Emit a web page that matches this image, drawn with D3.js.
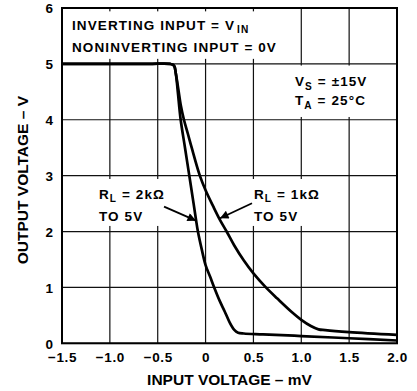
<!DOCTYPE html>
<html><head><meta charset="utf-8">
<script src="https://cdn.jsdelivr.net/npm/d3@7"></script>
<style>
body{margin:0;background:#fff;}
text{font-family:"Liberation Sans",Arial,Helvetica,sans-serif;font-weight:bold;fill:#000;}
</style></head>
<body><svg id="c" width="417" height="391"></svg>
<script>
// ---- data ----
const xTicks = [-1.5, -1.0, -0.5, 0, 0.5, 1.0, 1.5, 2.0];
const xTickLabels = ["\u22121.5", "\u22121.0", "\u22120.5", "0", "0.5", "1.0", "1.5", "2.0"];
const yTicks = [0, 1, 2, 3, 4, 5, 6];
const yTickLabels = ["0", "1", "2", "3", "4", "5", "6"];

const rl2kX = [-1.5, -0.6, -0.37, -0.33, -0.31, -0.29, -0.26, -0.215, -0.17, -0.125, -0.10, -0.08, -0.04, 0, 0.05, 0.09, 0.15, 0.20, 0.25, 0.30, 0.34, 0.40, 0.60, 1.0, 1.5, 2.0];
const rl2kY = [5, 5, 5, 4.97, 4.82, 4.5, 4.0, 3.5, 3.0, 2.5, 2.21, 2.0, 1.68, 1.4, 1.18, 1.0, 0.75, 0.57, 0.38, 0.24, 0.19, 0.175, 0.16, 0.13, 0.09, 0.05];

const rl1kX = [-1.5, -0.6, -0.37, -0.33, -0.31, -0.285, -0.258, -0.226, -0.185, -0.145, -0.06, 0, 0.08, 0.15, 0.22, 0.30, 0.40, 0.50, 0.63, 0.75, 0.90, 1.0, 1.10, 1.18, 1.25, 1.5, 2.0];
const rl1kY = [5, 5, 5, 4.97, 4.82, 4.55, 4.25, 4.0, 3.75, 3.5, 3.0, 2.74, 2.45, 2.21, 2.0, 1.75, 1.48, 1.25, 1.0, 0.8, 0.56, 0.42, 0.31, 0.25, 0.235, 0.2, 0.15];

const xTitle = "INPUT VOLTAGE \u2013 mV";
const yTitle = "OUTPUT VOLTAGE \u2013 V";

// ---- layout ----
const svg = d3.select("#c");
const L = 62, T = 8, W = 335, H = 335.3;
const x = d3.scaleLinear().domain([-1.5, 2.0]).range([L, L + W]);
const y = d3.scaleLinear().domain([0, 6]).range([T + H, T]);

// gridlines
const g = svg.append("g");
g.selectAll(".vg").data(xTicks).join("line")
  .attr("x1", d => x(d)).attr("x2", d => x(d)).attr("y1", T).attr("y2", T + H)
  .attr("stroke", "#111").attr("stroke-width", 1.2);
g.selectAll(".hg").data(yTicks).join("line")
  .attr("y1", d => y(d)).attr("y2", d => y(d)).attr("x1", L).attr("x2", L + W)
  .attr("stroke", "#111").attr("stroke-width", 1.2);

// white label backgrounds (break gridlines like the original)
const boxes = [
  {x0: -1.5, x1: 0.85, y0: 5.09, y1: 5.94},
  {x0: 0.57, x1: 2.0, y0: 4.05, y1: 4.97},
  {x0: -1.18, x1: -0.32, y0: 2.1, y1: 2.94},
  {x0: 0.45, x1: 1.25, y0: 2.1, y1: 2.94}
];
g.selectAll(".bx").data(boxes).join("rect")
  .attr("x", d => x(d.x0)).attr("y", d => y(d.y1))
  .attr("width", d => x(d.x1) - x(d.x0)).attr("height", d => y(d.y0) - y(d.y1))
  .attr("fill", "#fff");

// frame
svg.append("rect").attr("x", L).attr("y", T).attr("width", W).attr("height", H)
  .attr("fill", "none").attr("stroke", "#000").attr("stroke-width", 2);

// axes labels
const xa = svg.append("g").attr("transform", `translate(0,${T + H})`)
  .call(d3.axisBottom(x).tickValues(xTicks).tickFormat((d, i) => xTickLabels[i]).tickSize(0).tickPadding(0));
xa.select(".domain").remove();
xa.selectAll("text").attr("dy", null).attr("y", 18.5).attr("font-size", 13.5)
  .attr("letter-spacing", 0.6).style("font-family", "'Liberation Sans',Arial,sans-serif").style("font-weight", "bold").attr("fill", "#000");

const ya = svg.append("g").attr("transform", `translate(${L},0)`)
  .call(d3.axisLeft(y).tickValues(yTicks).tickFormat((d, i) => yTickLabels[i]).tickSize(0).tickPadding(9));
ya.select(".domain").remove();
ya.selectAll("text").attr("font-size", 13.5).attr("dy", "0.36em")
  .style("font-family", "'Liberation Sans',Arial,sans-serif").style("font-weight", "bold").attr("fill", "#000");

svg.append("text").attr("x", x(0.25)).attr("y", 385).attr("text-anchor", "middle")
  .attr("font-size", 15.5).text(xTitle);
svg.append("text").attr("transform", `translate(27.5,${y(2.92)}) rotate(-90)`).attr("text-anchor", "middle")
  .attr("font-size", 15.5).text(yTitle);

// curves
const line = d3.line().x(d => x(d[0])).y(d => y(d[1])).curve(d3.curveCatmullRom.alpha(0.5));
const s2k = rl2kX.map((v, i) => [v, rl2kY[i]]);
const s1k = rl1kX.map((v, i) => [v, rl1kY[i]]);
svg.selectAll(".crv").data([s1k, s2k]).join("path")
  .attr("d", line).attr("fill", "none").attr("stroke", "#000").attr("stroke-width", 2.7)
  .attr("stroke-linejoin", "round");

// arrows
const defs = svg.append("defs");
defs.append("marker").attr("id", "ah").attr("viewBox", "0 0 10 10").attr("refX", 10).attr("refY", 5)
  .attr("markerWidth", 14).attr("markerHeight", 8.5).attr("markerUnits", "userSpaceOnUse").attr("orient", "auto")
  .append("path").attr("d", "M0,0L10,5L0,10Z").attr("fill", "#000");
const arrows = [
  {from: [-0.434, 2.446], to: [-0.10, 2.195]},
  {from: [0.485, 2.507], to: [0.151, 2.238]}
];
svg.selectAll(".ar").data(arrows).join("line")
  .attr("x1", d => x(d.from[0])).attr("y1", d => y(d.from[1]))
  .attr("x2", d => x(d.to[0])).attr("y2", d => y(d.to[1]))
  .attr("stroke", "#000").attr("stroke-width", 1.8).attr("marker-end", "url(#ah)");

// annotation text
function addText(px, py, parts, size) {
  const t = svg.append("text").attr("x", px).attr("y", py).attr("font-size", size).attr("letter-spacing", 1.1);
  parts.forEach(p => {
    if (p.sub) {
      t.append("tspan").attr("dy", 3.5).attr("dx", p.dx || 0).attr("font-size", size * 0.75).text(p.t);
      if (p.after) t.append("tspan").attr("dy", -3.5).text(p.after);
    } else {
      t.append("tspan").text(p.t);
    }
  });
  return t;
}
addText(72, 29.5, [{t: "INVERTING INPUT = V"}, {t: "IN", sub: true, dx: 2}], 13.5);
addText(72, 52, [{t: "NONINVERTING INPUT = 0V"}], 13.5);
addText(295, 86, [{t: "V"}, {t: "S", sub: true, after: " = \u00b115V"}], 13.5);
addText(295, 105, [{t: "T"}, {t: "A", sub: true, after: " = 25\u00b0C"}], 13.5);
addText(99, 198.5, [{t: "R"}, {t: "L", sub: true, after: " = 2k\u03a9"}], 13.5);
addText(99, 221, [{t: "TO 5V"}], 13.5);
addText(254, 198.5, [{t: "R"}, {t: "L", sub: true, after: " = 1k\u03a9"}], 13.5);
addText(254, 221, [{t: "TO 5V"}], 13.5);
</script></body></html>
